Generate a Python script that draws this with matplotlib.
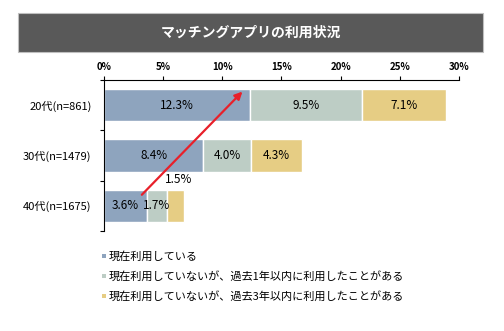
import matplotlib
matplotlib.use("Agg")
import matplotlib.pyplot as plt
from matplotlib.patches import Rectangle
import numpy as np

plt.rcParams['font.family'] = ['Noto Sans CJK JP', 'DejaVu Sans']

title = "マッチングアプリの利用状況"
categories = ["20代(n=861)", "30代(n=1479)", "40代(n=1675)"]
series_names = ["現在利用している",
                "現在利用していないが、過去1年以内に利用したことがある",
                "現在利用していないが、過去3年以内に利用したことがある"]
current = [12.3, 8.4, 3.6]
past1 = [9.5, 4.0, 1.7]
past3 = [7.1, 4.3, 1.5]
xticks = [0, 5, 10, 15, 20, 25, 30]
xticklabels = ["0%", "5%", "10%", "15%", "20%", "25%", "30%"]
colors = ["#8EA4BE", "#BDCDC5", "#E6CD84"]
arrow_start = (3.2, 1.78)
arrow_end = (11.7, -0.27)

fig = plt.figure(figsize=(5.04, 3.31), dpi=100)

# Title box
fig.patches.append(Rectangle((0.0357, 0.843), 0.9226, 0.118, transform=fig.transFigure,
                             facecolor="#595959", edgecolor="#BFBFBF", linewidth=0.8, zorder=0))
fig.text(0.497, 0.902, title, color="white", fontsize=10, fontweight="bold",
         ha="center", va="center")

ax = fig.add_axes([0.2063, 0.3021, 0.7044, 0.4562])
y = np.arange(len(categories))
series = [current, past1, past3]
left = np.zeros(len(categories))
bars_all = []
for vals, c in zip(series, colors):
    b = ax.barh(y, vals, left=left, height=0.64, color=c, edgecolor="white", linewidth=1.0)
    bars_all.append((b, vals, left.copy()))
    left = left + np.array(vals)

for si, (b, vals, lft) in enumerate(bars_all):
    for i, v in enumerate(vals):
        cx = lft[i] + v / 2
        if v < 1.6 and si == 2:
            ax.text(cx + 0.25, i - 0.52, f"{v:.1f}%", ha="center", va="center", fontsize=8.5)
        else:
            ax.text(cx, i, f"{v:.1f}%", ha="center", va="center", fontsize=8.5)

ax.annotate("", xy=arrow_end, xytext=arrow_start,
            arrowprops=dict(arrowstyle="-|>", color="#E8202A", lw=1.6,
                            mutation_scale=11, shrinkA=0, shrinkB=0))

ax.set_xlim(0, 30)
ax.set_ylim(2.5, -0.5)
ax.xaxis.tick_top()
ax.set_xticks(xticks)
ax.set_xticklabels(xticklabels, fontsize=7, fontweight="bold")
ax.tick_params(axis="x", direction="out", length=3, pad=3, width=0.8)
ax.set_yticks(y)
ax.set_yticklabels(categories, fontsize=8)
ax.tick_params(axis="y", which="major", length=0, pad=9)
ax.set_yticks([-0.5, 0.5, 1.5, 2.5], minor=True)
ax.tick_params(axis="y", which="minor", length=3, width=0.8, direction="out")
for s in ["right", "bottom"]:
    ax.spines[s].set_visible(False)
ax.spines["top"].set_linewidth(0.8)
ax.spines["left"].set_linewidth(0.8)

# Legend
ly = [0.226, 0.166, 0.106]
for name, c, yy in zip(series_names, colors, ly):
    fig.patches.append(Rectangle((0.202, yy - 0.006), 0.008, 0.012, transform=fig.transFigure,
                                 facecolor=c, edgecolor="none"))
    fig.text(0.216, yy, name, fontsize=8, ha="left", va="center")

fig.savefig("out.png", dpi=100)
